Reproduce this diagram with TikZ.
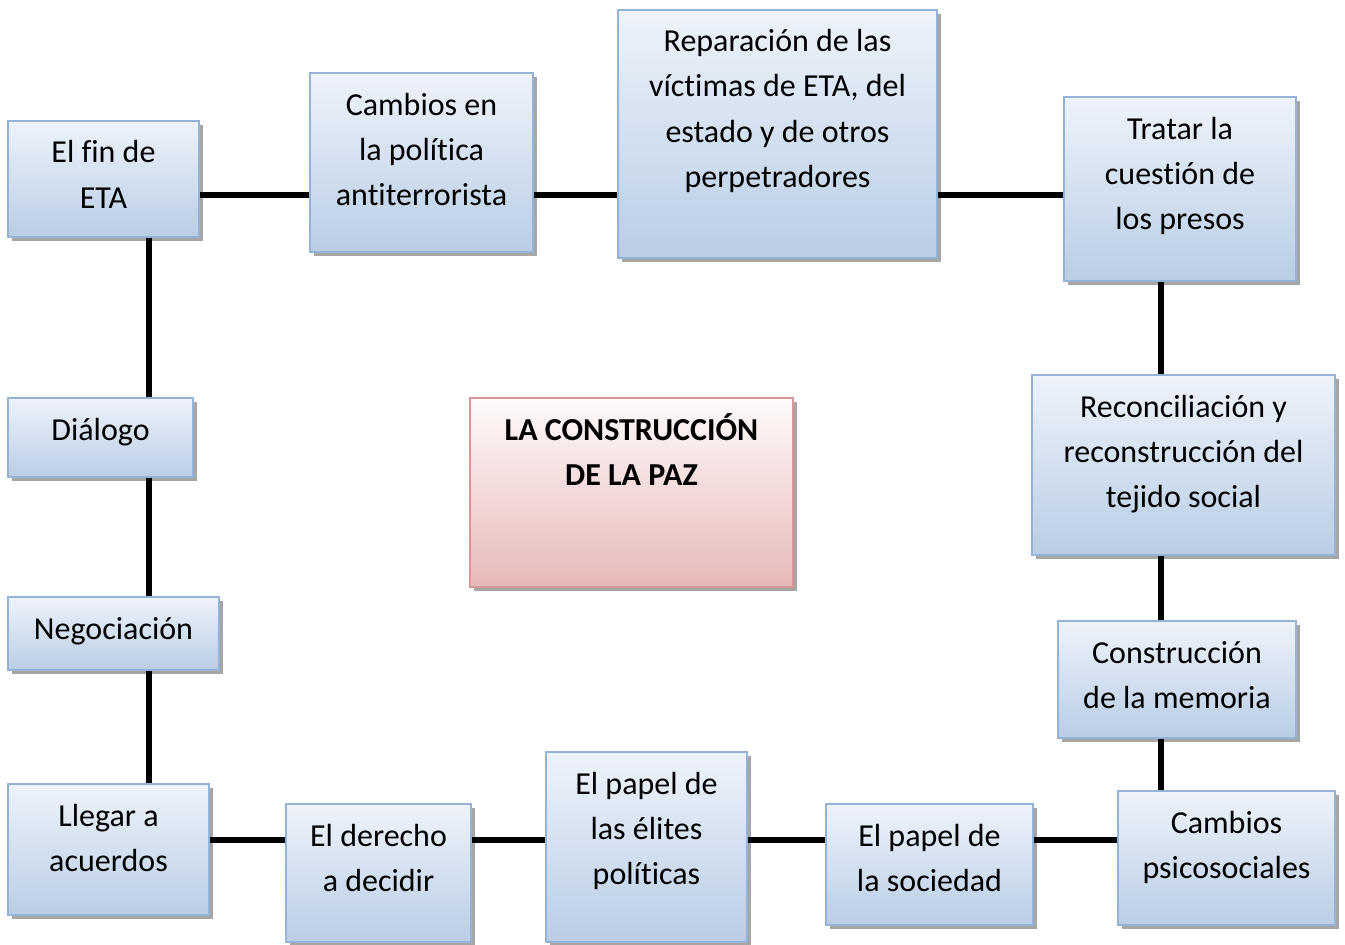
\documentclass[tikz,border=0pt]{standalone}
\usepackage{fontspec}
\setmainfont[Ligatures=NoCommon]{Carlito}
\usetikzlibrary{shadows}
\definecolor{bborder}{HTML}{95B3D7}
\definecolor{btop}{HTML}{EEF3FA}
\definecolor{bbot}{HTML}{B9CDE5}
\definecolor{rborder}{HTML}{D99694}
\definecolor{rtop}{HTML}{FFFAFA}
\definecolor{rbot}{HTML}{E6B9B8}
\definecolor{shad}{HTML}{A6A6A6}
\tikzset{
  box/.style={draw=bborder, line width=1.5pt, top color=btop, bottom color=bbot,
    align=center, inner ysep=0pt, inner xsep=2pt,
    font=\fontsize{24}{33.75}\selectfont,
    drop shadow={shadow xshift=3pt, shadow yshift=-3pt, fill=shad, opacity=1}},
  centrebox/.style={box, draw=rborder, top color=rtop, bottom color=rbot,
    font=\fontsize{24}{33.75}\selectfont\bfseries},
  link/.style={line width=4.25pt, line cap=butt}
}
\begin{document}
\begin{tikzpicture}[x=0.75pt,y=-0.75pt]
\useasboundingbox (0,0) rectangle (1345,945);
\node[box, minimum width=143.25pt, text height=65.25pt, text depth=21.75pt] (n1) at (103.5,179) {El fin de\\ETA};
\node[box, minimum width=167.25pt, text height=99pt, text depth=35.25pt] (n2) at (421.5,162.5) {Cambios en\\la política\\antiterrorista};
\node[box, minimum width=239.25pt, text height=132.75pt, text depth=53.25pt] (n3) at (777.5,134) {Reparación de las\\víctimas de ETA, del\\estado y de otros\\perpetradores};
\node[box, minimum width=174pt, text height=99pt, text depth=39pt] (n4) at (1180,189) {Tratar la\\cuestión de\\los presos};
\node[box, minimum width=227.25pt, text height=99pt, text depth=36pt] (n5) at (1183.5,465) {Reconciliación y\\reconstrucción del\\tejido social};
\node[box, minimum width=178.5pt, text height=65.25pt, text depth=22.5pt] (n6) at (1177,679.5) {Construcción\\de la memoria};
\node[box, minimum width=162.75pt, text height=65.25pt, text depth=35.25pt] (n7) at (1226.5,858) {Cambios\\psicosociales};
\node[box, minimum width=155.25pt, text height=65.25pt, text depth=25.5pt] (n8) at (929.5,864.5) {El papel de\\la sociedad};
\node[box, minimum width=150.75pt, text height=99pt, text depth=43.5pt] (n9) at (646.5,847) {El papel de\\las élites\\políticas};
\node[box, minimum width=138.75pt, text height=65.25pt, text depth=38.25pt] (n10) at (378.5,873) {El derecho\\a decidir};
\node[box, minimum width=150.75pt, text height=65.25pt, text depth=33pt] (n11) at (108.5,849.5) {Llegar a\\acuerdos};
\node[box, minimum width=158.25pt, text height=31.5pt, text depth=23.25pt] (n12) at (113.5,633.5) {Negociación};
\node[box, minimum width=138.75pt, text height=31.5pt, text depth=27.75pt] (n13) at (100.5,437.5) {Diálogo};
\node[centrebox, minimum width=242.25pt, text height=65.25pt, text depth=76.5pt] (c) at (631.5,492.5) {LA CONSTRUCCIÓN\\DE LA PAZ};
\coordinate (top) at (0,195);
\coordinate (bot) at (0,840);
\coordinate (lft) at (149,0);
\coordinate (rgt) at (1161,0);
\draw[link] (n1.east |- top) -- (n2.west |- top);
\draw[link] (n2.east |- top) -- (n3.west |- top);
\draw[link] (n3.east |- top) -- (n4.west |- top);
\draw[link] (n1.south -| lft) -- (n13.north -| lft);
\draw[link] (n13.south -| lft) -- (n12.north -| lft);
\draw[link] (n12.south -| lft) -- (n11.north -| lft);
\draw[link] (n4.south -| rgt) -- (n5.north -| rgt);
\draw[link] (n5.south -| rgt) -- (n6.north -| rgt);
\draw[link] (n6.south -| rgt) -- (n7.north -| rgt);
\draw[link] (n11.east |- bot) -- (n10.west |- bot);
\draw[link] (n10.east |- bot) -- (n9.west |- bot);
\draw[link] (n9.east |- bot) -- (n8.west |- bot);
\draw[link] (n8.east |- bot) -- (n7.west |- bot);
\end{tikzpicture}
\end{document}
